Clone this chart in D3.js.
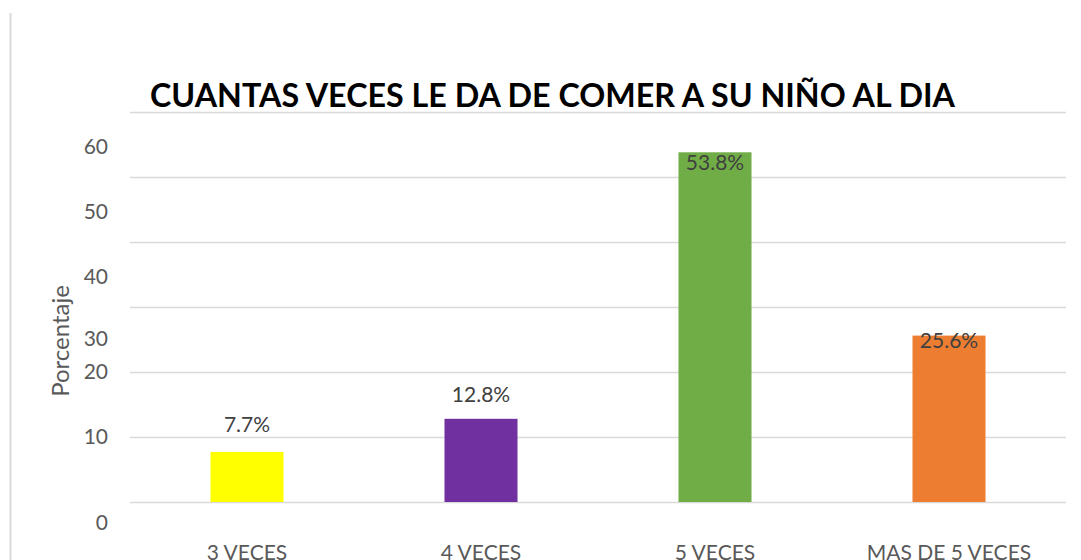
<!DOCTYPE html>
<html><head><meta charset="utf-8">
<script src="https://cdn.jsdelivr.net/npm/d3@7"></script>
<style>body{margin:0;background:#fff}svg{display:block}</style>
</head><body>
<script>
const categories = ["3 VECES", "4 VECES", "5 VECES", "MAS DE 5 VECES"];
const values = [7.7, 12.8, 53.8, 25.6];
const barColors = ["#FFFF00", "#7030A0", "#70AD47", "#ED7D31"];
const gridValues = [0, 10, 20, 30, 40, 50, 60];
const tickLabels = ["0", "10", "20", "30", "40", "50", "60"];
const tickLabelShift = [21, 0, 0, 32, 35, 35, 35];
const valueLabelDy = [-20, -17, 18, 12];
const title = "CUANTAS VECES LE DA DE COMER A SU NIÑO AL DIA";
const yTitle = "Porcentaje";

const W = 1081, H = 560;
const svg = d3.select("body").append("svg").attr("width", W).attr("height", H);
const font = "Lato, 'Open Sans', sans-serif";

svg.append("line").attr("x1", 10.5).attr("x2", 10.5).attr("y1", 13).attr("y2", H)
  .attr("stroke", "#d9d9d9").attr("stroke-width", 2);

const x = d3.scaleBand().domain(categories).range([130, 1066]).paddingInner(0.688).paddingOuter(0.344);
const y = d3.scaleLinear().domain([0, 60]).range([502, 112]);

svg.append("g").selectAll("line").data(gridValues).join("line")
  .attr("x1", 130).attr("x2", 1066)
  .attr("y1", d => y(d) + 0.5).attr("y2", d => y(d) + 0.5)
  .attr("stroke", "#d9d9d9").attr("stroke-width", 1.5);

svg.append("g").selectAll("text").data(gridValues).join("text")
  .attr("x", 108).attr("y", (d, i) => y(d) + tickLabelShift[i])
  .attr("dy", "0.35em").attr("text-anchor", "end")
  .attr("font-family", font).attr("font-size", 21).attr("fill", "#595959")
  .text((d, i) => tickLabels[i]);

svg.append("text").attr("transform", "translate(69,341) rotate(-90)")
  .attr("text-anchor", "middle").attr("font-family", font).attr("font-size", 24)
  .attr("fill", "#595959").text(yTitle);

svg.append("g").selectAll("rect").data(values).join("rect")
  .attr("x", (d, i) => x(categories[i])).attr("width", x.bandwidth())
  .attr("y", d => y(d)).attr("height", d => y(0) - y(d))
  .attr("fill", (d, i) => barColors[i]);

svg.append("g").selectAll("text").data(values).join("text")
  .attr("x", (d, i) => x(categories[i]) + x.bandwidth() / 2)
  .attr("y", (d, i) => y(d) + valueLabelDy[i])
  .attr("text-anchor", "middle").attr("font-family", font).attr("font-size", 21)
  .attr("fill", "#404040").text(d => d.toFixed(1) + "%");

svg.append("g").selectAll("text").data(categories).join("text")
  .attr("x", d => x(d) + x.bandwidth() / 2).attr("y", 560)
  .attr("text-anchor", "middle").attr("font-family", font).attr("font-size", 21)
  .attr("fill", "#595959").text(d => d);

svg.append("text").attr("x", 150).attr("y", 107)
  .attr("font-family", font).attr("font-weight", "bold").attr("font-size", 33)
  .attr("fill", "#000").attr("textLength", 805).attr("lengthAdjust", "spacingAndGlyphs")
  .text(title);
</script>
</body></html>
